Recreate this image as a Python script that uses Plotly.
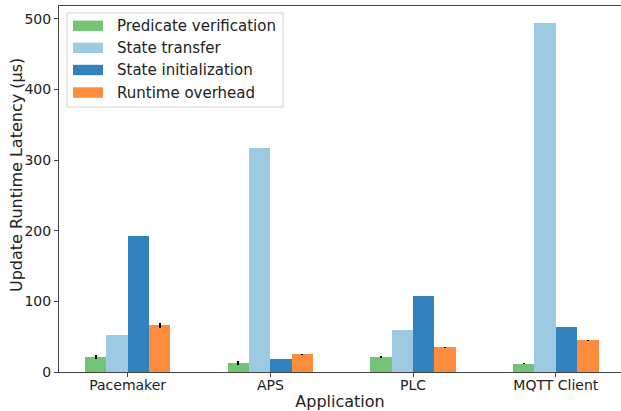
import plotly.graph_objects as go

# Data
applications = ["Pacemaker", "APS", "PLC", "MQTT Client"]
series_names = ["Predicate verification", "State transfer", "State initialization", "Runtime overhead"]
predicate_verification = [21, 13, 21, 12]
state_transfer = [52, 317, 59, 494]
state_initialization = [193, 19, 108, 64]
runtime_overhead = [66, 25, 35, 45]
err_predicate = [3, 3, 1, 0.5]
err_transfer = [0, 0, 0, 0]
err_init = [0, 0, 0, 0]
err_overhead = [3, 0.5, 0.5, 0.5]

colors = ["#74c476", "#9ecae1", "#3182bd", "#fd8d3c"]
values = [predicate_verification, state_transfer, state_initialization, runtime_overhead]
errors = [err_predicate, err_transfer, err_init, err_overhead]

W, H = 621, 411
ML, MR, MT, MB = 59, 0, 6, 39
PW, PH = W - ML - MR, H - MT - MB

bar_w = 0.15
offsets = [-1.5 * bar_w, -0.5 * bar_w, 0.5 * bar_w, 1.5 * bar_w]
xs = list(range(len(applications)))

fig = go.Figure()
for name, vals, errs, col, off in zip(series_names, values, errors, colors, offsets):
    fig.add_trace(go.Bar(
        x=[x + off for x in xs],
        y=vals,
        width=bar_w,
        name=name,
        marker=dict(color=col, line=dict(width=0)),
        error_y=dict(type="data", array=errs, visible=True, color="black",
                     thickness=2, width=0),
        showlegend=False,
    ))

# Legend box drawn in pixel positions
def px(x):
    return (x - ML) / PW

def py(y):
    return 1 - (y - MT) / PH

shapes = [dict(type="rect", xref="paper", yref="paper",
               x0=px(67), x1=px(283), y0=py(107), y1=py(13),
               line=dict(color="#d0d0d0", width=1), fillcolor="rgba(255,255,255,0.8)",
               layer="above")]
annotations = []
row_y = [25.8, 47.8, 70.0, 92.5]
for name, col, yc in zip(series_names, colors, row_y):
    shapes.append(dict(type="rect", xref="paper", yref="paper",
                       x0=px(73), x1=px(103), y0=py(yc + 5.2), y1=py(yc - 5.2),
                       line=dict(width=0), fillcolor=col, layer="above"))
    annotations.append(dict(xref="paper", yref="paper", x=px(115), y=py(yc),
                            text=name, showarrow=False, xanchor="left", yanchor="middle",
                            font=dict(size=15, color="#222")))

# y-axis title
annotations.append(dict(xref="paper", yref="paper", x=px(17), y=py(175),
                        text="Update Runtime Latency (μs)", textangle=-90, showarrow=False,
                        xanchor="center", yanchor="middle", font=dict(size=16, color="#222")))

fig.update_layout(
    width=W, height=H,
    margin=dict(l=ML, r=MR, t=MT, b=MB, pad=0),
    paper_bgcolor="white", plot_bgcolor="white",
    font=dict(family="DejaVu Sans", color="#222"),
    bargap=0, barmode="overlay",
    shapes=shapes, annotations=annotations,
    xaxis=dict(
        range=[-0.481, 3.457],
        tickvals=xs, ticktext=applications,
        tickfont=dict(size=14),
        ticks="outside", ticklen=4, tickcolor="#444",
        ticklabelstandoff=-4,
        showline=True, linecolor="#444", linewidth=1, mirror=True,
        showgrid=False, zeroline=False,
        title=dict(text="Application", font=dict(size=16), standoff=6),
    ),
    yaxis=dict(
        range=[0, 518.4],
        tickvals=[0, 100, 200, 300, 400, 500],
        tickfont=dict(size=14),
        ticks="outside", ticklen=4, tickcolor="#444",
        showline=True, linecolor="#444", linewidth=1,
        showgrid=False, zeroline=False,
    ),
)

fig.write_html("out.html")
